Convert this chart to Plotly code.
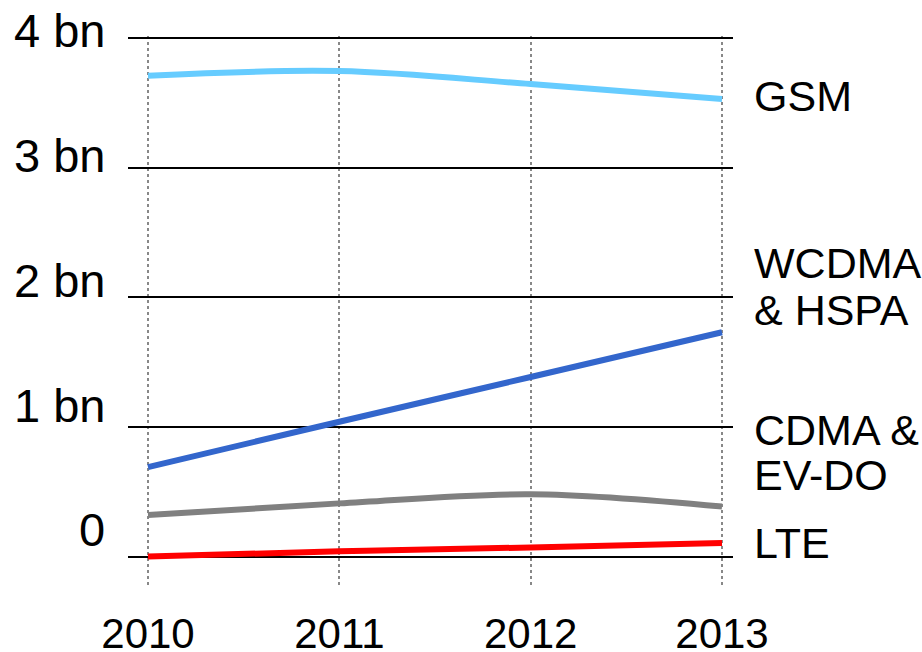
import plotly.graph_objects as go

# Mobile subscriptions by technology (billions)
years = [2010, 2011, 2012, 2013]
gsm = [3.71, 3.745, 3.645, 3.53]
wcdma_hspa = [0.69, 1.04, 1.385, 1.73]
cdma_evdo = [0.32, 0.41, 0.48, 0.385]
lte = [0.0, 0.04, 0.07, 0.105]

series_names = ["GSM", "WCDMA & HSPA", "CDMA & EV-DO", "LTE"]
series_colors = ["#66CCFF", "#3366CC", "#808080", "#FF0000"]

y_ticks = [0, 1, 2, 3, 4]
y_tick_labels = ["0", "1 bn", "2 bn", "3 bn", "4 bn"]
x_tick_labels = ["2010", "2011", "2012", "2013"]

# Right-hand series labels, one entry per text line: (text, y position in data units)
end_labels = [
    ("GSM", 3.553),
    ("WCDMA", 2.265),
    ("& HSPA", 1.90),
    ("CDMA &", 0.976),
    ("EV-DO", 0.629),
    ("LTE", 0.104),
]

FONT = "Liberation Sans, Arial, sans-serif"
Y_MIN, Y_MAX = -0.243, 4.016


def to_paper(v):
    """Convert a y value in data units to a paper fraction of the plot area."""
    return (v - Y_MIN) / (Y_MAX - Y_MIN)


fig = go.Figure()
for name, vals, color in zip(series_names, [gsm, wcdma_hspa, cdma_evdo, lte], series_colors):
    fig.add_trace(go.Scatter(
        x=years, y=vals, name=name, mode="lines",
        line=dict(color=color, width=6, shape="spline", smoothing=1.0),
        hoverinfo="x+y+name",
    ))

annotations = []
# Y-axis value labels, sitting just above each gridline
for v, txt in zip(y_ticks, y_tick_labels):
    annotations.append(dict(
        text=txt, xref="paper", x=-0.0347, xanchor="right",
        yref="paper", y=to_paper(0.205 + 0.9626 * v), yanchor="middle",
        showarrow=False, font=dict(family=FONT, size=47, color="black"),
    ))
for txt, yv in end_labels:
    annotations.append(dict(
        text=txt, xref="paper", x=1.0314, xanchor="left",
        yref="paper", y=to_paper(yv), yanchor="middle",
        showarrow=False, font=dict(family=FONT, size=43, color="black"),
    ))

fig.update_layout(
    width=922, height=652,
    margin=dict(l=128, r=189, t=36, b=64),
    plot_bgcolor="white", paper_bgcolor="white",
    showlegend=False,
    font=dict(family=FONT, color="black"),
    annotations=annotations,
    xaxis=dict(
        range=[2009.8955, 2013.0575],
        tickvals=years, ticktext=x_tick_labels,
        tickfont=dict(size=42, family=FONT, color="black"),
        showgrid=True, gridcolor="#888888", gridwidth=2, griddash="dot",
        zeroline=False, showline=False, ticks="",
        ticklabelstandoff=17, automargin=False,
    ),
    yaxis=dict(
        range=[Y_MIN, Y_MAX],
        tickvals=y_ticks, showticklabels=False,
        showgrid=True, gridcolor="black", gridwidth=2,
        zeroline=False, showline=False, ticks="", automargin=False,
    ),
)

fig.write_html("out.html")
